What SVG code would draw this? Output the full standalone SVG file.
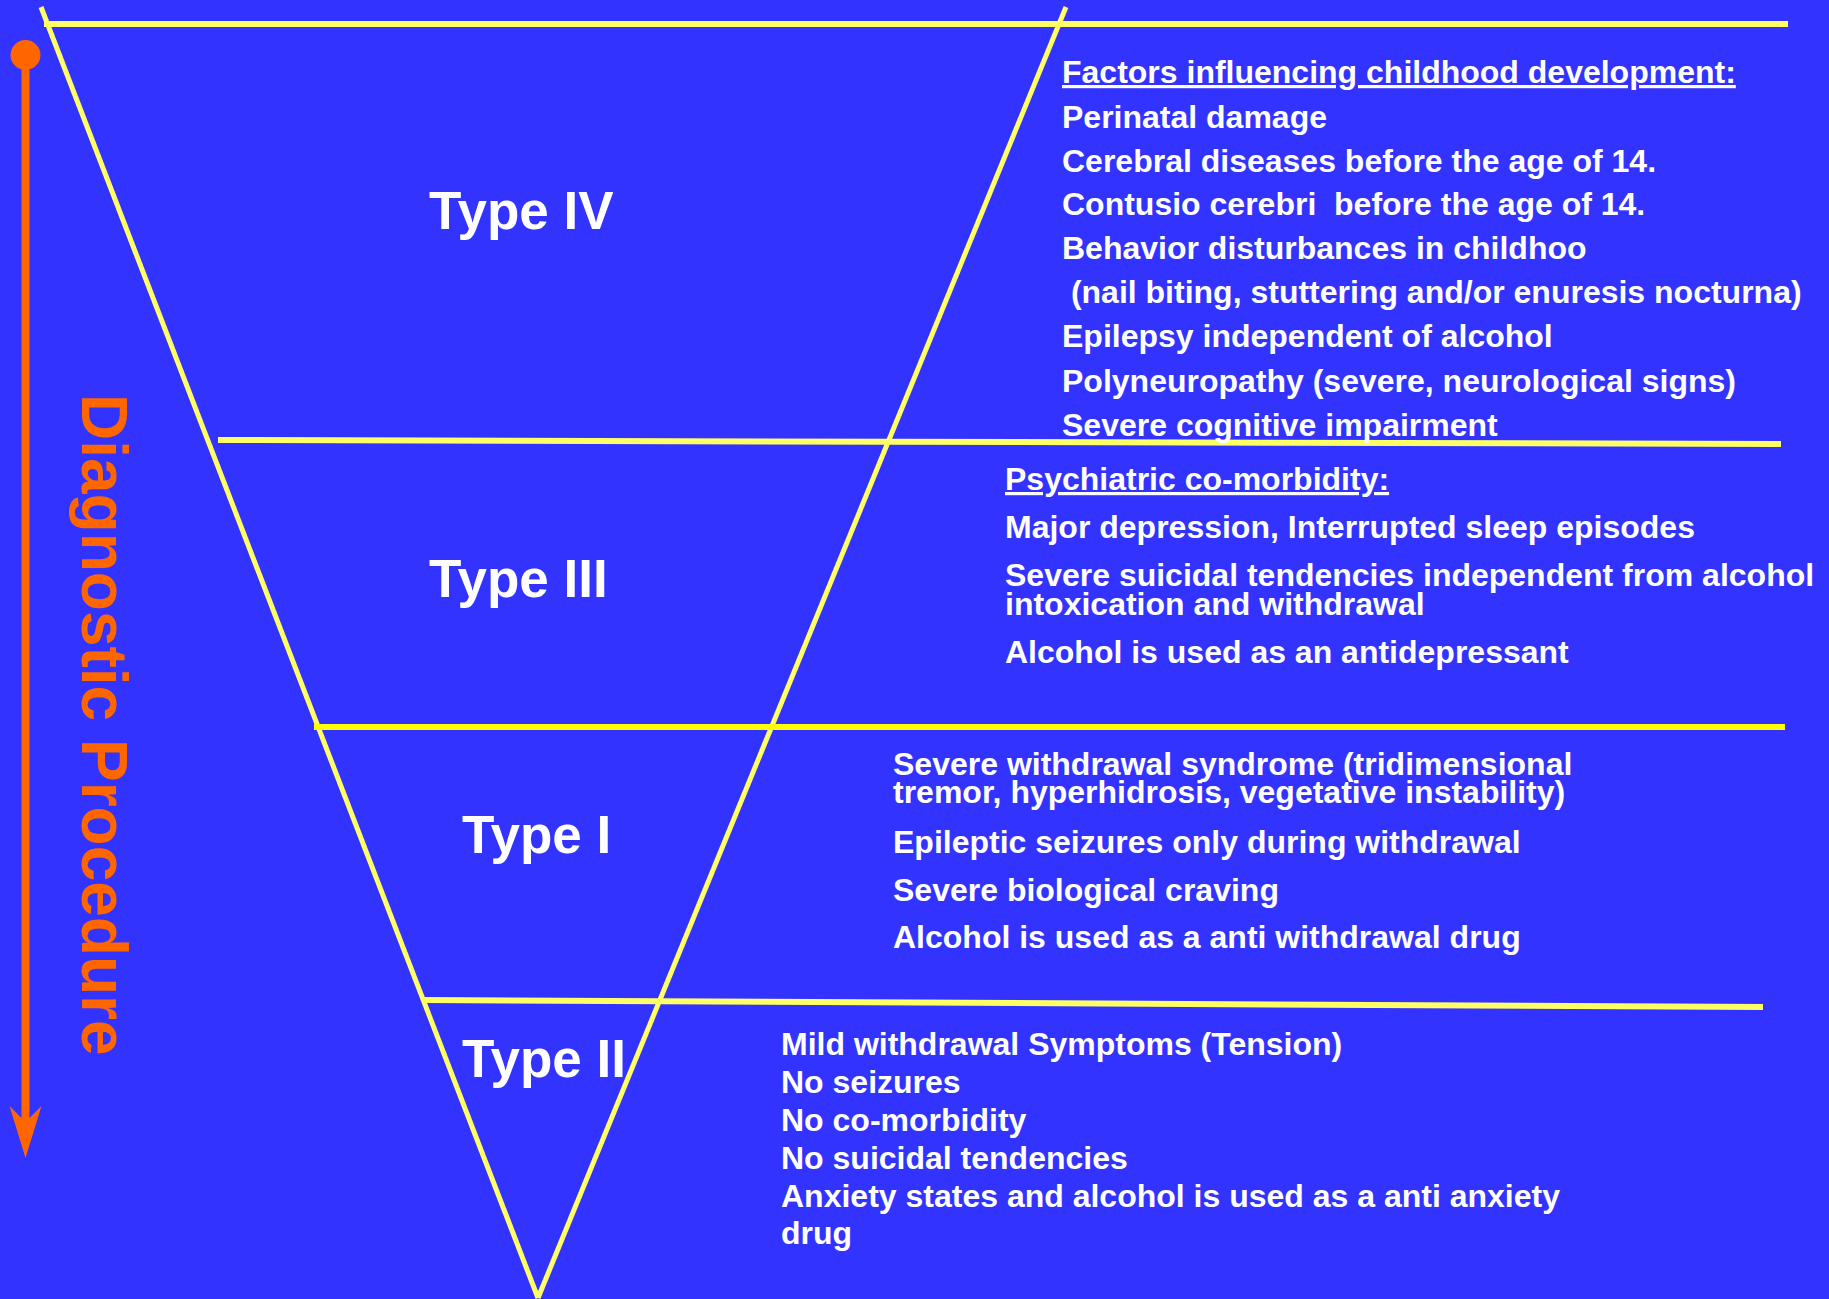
<svg xmlns="http://www.w3.org/2000/svg" width="1829" height="1299" viewBox="0 0 1829 1299">
  <style>
    .bg { fill: #3333FF; }
    .edge { stroke: #FFFF66; stroke-width: 5; fill: none; }
    .band { stroke: #FFFF66; stroke-width: 6; fill: none; }
    .band-strong { stroke: #FFFF00; stroke-width: 6; fill: none; }
    .type { font-family: "Liberation Sans", Arial, sans-serif; font-weight: bold; font-size: 53px; fill: #FFFFFF; }
    .desc { font-family: "Liberation Sans", Arial, sans-serif; font-weight: bold; font-size: 32px; fill: #FFFFFF; white-space: pre; }
    .head { text-decoration: underline; }
    .axis { stroke: #FF6600; stroke-width: 8; fill: none; }
    .axis-fill { fill: #FF6600; }
    .axis-label { font-family: "Liberation Sans", Arial, sans-serif; font-weight: bold; font-size: 64px; fill: #FF6600; }
  </style>
  <rect class="bg" x="0" y="0" width="1829" height="1299"/>

  <g id="connectors">
    <line class="edge" x1="41" y1="7" x2="538" y2="1298"/>
    <line class="edge" x1="1066" y1="7" x2="538" y2="1298"/>
    <line class="band" x1="44" y1="24" x2="1788" y2="24"/>
    <line class="band" x1="218" y1="440" x2="1781" y2="444"/>
    <line class="band-strong" x1="314" y1="727" x2="1785" y2="727"/>
    <line class="band" x1="425" y1="1000" x2="1763" y2="1007"/>
  </g>

  <g id="diagnostic-axis">
    <circle class="axis-fill" cx="25.5" cy="55" r="15"/>
    <line class="axis" x1="25.5" y1="55" x2="25.5" y2="1130"/>
    <polygon class="axis-fill" points="25.5,1158 9.5,1106 25.5,1122 41.5,1106"/>
    <text class="axis-label" transform="translate(82,394) rotate(90)">Diagnostic Procedure</text>
  </g>

  <g id="type-iv">
    <text class="type" x="429" y="229">Type IV</text>
    <text class="desc head" x="1062" y="83">Factors influencing childhood development:</text>
    <text class="desc" x="1062" y="128">Perinatal damage</text>
    <text class="desc" x="1062" y="172">Cerebral diseases before the age of 14.</text>
    <text class="desc" x="1062" y="215">Contusio cerebri  before the age of 14.</text>
    <text class="desc" x="1062" y="259">Behavior disturbances in childhoo</text>
    <text class="desc" x="1062" y="303"> (nail biting, stuttering and/or enuresis nocturna)</text>
    <text class="desc" x="1062" y="347">Epilepsy independent of alcohol</text>
    <text class="desc" x="1062" y="392">Polyneuropathy (severe, neurological signs)</text>
    <text class="desc" x="1062" y="436">Severe cognitive impairment</text>
  </g>

  <g id="type-iii">
    <text class="type" x="429" y="597">Type III</text>
    <text class="desc head" x="1005" y="490">Psychiatric co-morbidity:</text>
    <text class="desc" x="1005" y="538">Major depression, Interrupted sleep episodes</text>
    <text class="desc" x="1005" y="586">Severe suicidal tendencies independent from alcohol</text>
    <text class="desc" x="1005" y="615">intoxication and withdrawal</text>
    <text class="desc" x="1005" y="663">Alcohol is used as an antidepressant</text>
  </g>

  <g id="type-i">
    <text class="type" x="462" y="853">Type I</text>
    <text class="desc" x="893" y="775">Severe withdrawal syndrome (tridimensional</text>
    <text class="desc" x="893" y="803">tremor, hyperhidrosis, vegetative instability)</text>
    <text class="desc" x="893" y="853">Epileptic seizures only during withdrawal</text>
    <text class="desc" x="893" y="901">Severe biological craving</text>
    <text class="desc" x="893" y="948">Alcohol is used as a anti withdrawal drug</text>
  </g>

  <g id="type-ii">
    <text class="type" x="462" y="1077">Type II</text>
    <text class="desc" x="781" y="1055">Mild withdrawal Symptoms (Tension)</text>
    <text class="desc" x="781" y="1093">No seizures</text>
    <text class="desc" x="781" y="1131">No co-morbidity</text>
    <text class="desc" x="781" y="1169">No suicidal tendencies</text>
    <text class="desc" x="781" y="1207">Anxiety states and alcohol is used as a anti anxiety</text>
    <text class="desc" x="781" y="1244">drug</text>
  </g>
</svg>
